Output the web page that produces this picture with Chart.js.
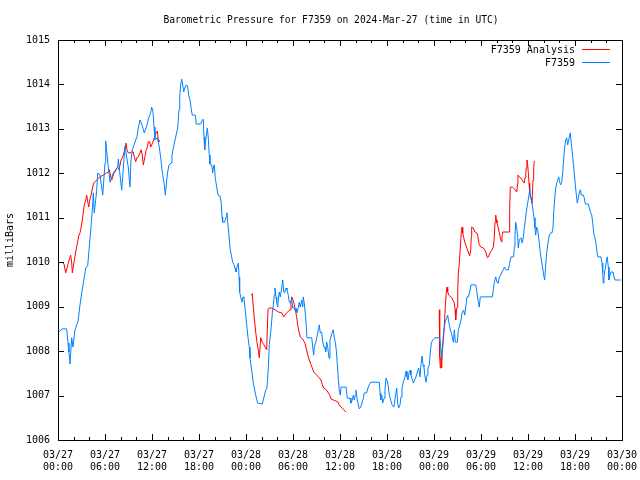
<!DOCTYPE html>
<html>
<head>
<meta charset="utf-8">
<script src="https://cdn.jsdelivr.net/npm/chart.js@4"></script>
<style>
  html, body { margin: 0; padding: 0; background: #fff; }
</style>
</head>
<body>
<canvas id="pressureChart" width="640" height="480"></canvas>
<script>
// F7359 station readings, hours since 2024-03-27 00:00 UTC
const stationHours = [
  0, 0.51, 1.11, 1.28, 1.40, 1.53, 1.75, 1.91, 2.17, 2.39, 2.55, 2.81, 3.03, 3.36, 3.54, 3.79, 3.96, 4.21, 4.38, 4.51,
  4.63, 4.81, 4.94, 5.07, 5.36, 5.71, 6.00, 6.09, 6.42, 6.64, 7.06, 7.62, 7.70, 8.13, 8.55, 8.97, 9.19, 9.32, 9.49, 9.92,
  10.08, 10.25, 10.47, 10.72, 11.02, 11.36, 11.53, 11.83, 11.96, 12.13, 12.26, 12.38, 12.68, 12.93, 13.15, 13.28, 13.44, 13.57, 13.70, 13.88,
  14.00, 14.17, 14.43, 14.55, 14.72, 14.94, 15.28, 15.45, 15.54, 15.66, 15.79, 15.92, 16.05, 16.21, 16.43, 16.56, 16.68, 16.85, 16.98, 17.14,
  17.53, 17.65, 18.22, 18.38, 18.55, 18.64, 18.73, 18.85, 18.98, 19.06, 19.19, 19.31, 19.40, 19.62, 19.75, 19.83, 19.95, 20.08, 20.26, 20.43,
  20.68, 20.85, 20.94, 21.02, 21.28, 21.45, 21.57, 21.66, 21.79, 21.87, 22.00, 22.17, 22.30, 22.47, 22.60, 22.72, 22.85, 23.02, 23.11, 23.19,
  23.32, 23.49, 23.62, 23.74, 23.87, 24.00, 24.13, 24.26, 24.42, 24.51, 24.73, 24.93, 25.24, 25.49, 26.08, 26.30, 26.51, 26.68, 26.85, 26.97,
  27.19, 27.36, 27.49, 27.61, 27.70, 27.83, 27.92, 28.05, 28.12, 28.25, 28.38, 28.56, 28.69, 28.81, 28.94, 29.11, 29.23, 29.40, 29.53, 29.71,
  29.84, 29.96, 30.09, 30.26, 30.38, 30.51, 30.68, 30.80, 30.93, 31.11, 31.24, 31.31, 31.44, 31.62, 31.79, 32.39, 32.52, 32.64, 32.72, 32.90,
  33.06, 33.23, 33.36, 33.48, 33.66, 33.79, 33.96, 34.09, 34.17, 34.30, 34.43, 34.60, 34.72, 34.85, 35.02, 35.14, 35.27, 35.40, 35.53, 35.66,
  35.78, 35.91, 36.04, 36.13, 36.77, 36.93, 37.28, 37.40, 37.57, 37.70, 37.83, 37.96, 38.04, 38.21, 38.34, 38.46, 38.64, 38.81, 38.98, 39.10,
  39.40, 39.57, 39.74, 39.92, 41.02, 41.11, 41.20, 41.33, 41.45, 41.62, 41.74, 41.87, 42.04, 42.17, 42.29, 42.47, 42.64, 42.89, 43.06, 43.24,
  43.36, 43.49, 43.66, 43.79, 43.91, 44.08, 44.30, 44.43, 44.55, 44.68, 44.81, 44.94, 45.06, 45.19, 45.36, 45.54, 45.70, 45.87, 46.05, 46.21,
  46.34, 46.47, 46.60, 46.72, 46.85, 46.98, 47.11, 47.23, 47.40, 47.53, 47.66, 47.83, 48.13, 48.73, 48.86, 48.98, 49.11, 49.19, 49.31, 49.44,
  49.62, 49.75, 49.88, 50.01, 50.17, 50.34, 50.47, 50.60, 50.73, 50.98, 51.11, 51.29, 51.45, 51.61, 51.79, 51.92, 52.05, 52.21, 52.38, 52.55,
  52.72, 53.32, 53.49, 53.66, 53.78, 53.91, 55.44, 55.57, 55.70, 55.88, 56.04, 56.21, 56.34, 56.51, 56.68, 56.85, 56.98, 57.16, 57.49, 57.66,
  57.83, 58.17, 58.25, 58.34, 58.43, 58.56, 58.69, 58.76, 58.89, 59.10, 59.27, 59.40, 59.53, 59.66, 59.78, 59.96, 60.09, 60.22, 60.35, 60.48,
  60.60, 60.77, 60.89, 60.98, 61.11, 61.24, 61.40, 61.53, 61.70, 61.88, 62.00, 62.13, 62.26, 62.38, 62.55, 62.72, 62.90, 63.06, 63.19, 63.28,
  63.41, 63.54, 63.66, 63.79, 63.92, 64.05, 64.17, 64.30, 64.43, 64.56, 64.69, 64.81, 64.94, 65.07, 65.20, 65.33, 65.40, 65.53, 65.66, 65.78,
  65.91, 66.04, 66.17, 66.29, 66.42, 66.55, 66.68, 66.81, 67.06, 67.19, 67.32, 67.70, 67.83, 68.01, 68.14, 68.26, 68.39, 68.52, 68.65, 68.78,
  68.90, 69.32, 69.45, 69.54, 69.61, 69.70, 69.83, 69.99, 70.12, 70.25, 70.34, 70.47, 70.60, 70.85, 70.98, 71.11, 71.84
];
const stationPressure = [
  1008.41, 1008.50, 1008.50, 1008.18, 1007.98, 1007.71, 1008.30, 1008.09, 1008.48, 1008.59, 1008.66, 1009.04, 1009.31, 1009.67, 1009.87, 1009.92, 1010.27, 1010.79, 1011.17, 1011.56,
  1011.11, 1011.40, 1011.62, 1012.01, 1011.96, 1011.51, 1012.23, 1012.73, 1012.14, 1011.80, 1012.01, 1012.14, 1012.32, 1011.62, 1012.61, 1012.14, 1011.69, 1012.30, 1012.53, 1012.75,
  1012.82, 1013.02, 1013.20, 1013.09, 1012.91, 1013.09, 1013.22, 1013.36, 1013.49, 1013.38, 1013.04, 1012.75, 1012.80, 1012.59, 1012.30, 1012.07, 1011.89, 1011.74, 1011.51, 1011.85,
  1012.03, 1012.19, 1012.23, 1012.41, 1012.57, 1012.75, 1013.02, 1013.43, 1013.72, 1013.99, 1014.12, 1013.99, 1013.83, 1013.94, 1013.99, 1013.94, 1013.76, 1013.65, 1013.49, 1013.31,
  1013.31, 1013.11, 1013.11, 1013.18, 1013.22, 1012.82, 1012.53, 1012.75, 1012.91, 1013.02, 1012.79, 1012.41, 1012.21, 1012.19, 1012.01, 1012.12, 1012.19, 1011.89, 1011.69, 1011.51,
  1011.49, 1011.33, 1011.02, 1010.90, 1010.90, 1011.02, 1011.11, 1010.90, 1010.68, 1010.50, 1010.27, 1010.12, 1010.00, 1009.94, 1009.87, 1009.78, 1009.89, 1009.98, 1009.67, 1009.33,
  1009.22, 1009.10, 1009.22, 1009.20, 1008.97, 1008.74, 1008.52, 1008.30, 1008.09, 1007.84, 1007.57, 1007.28, 1007.01, 1006.83, 1006.81, 1006.97, 1007.12, 1007.17, 1007.62, 1008.14,
  1008.48, 1008.86, 1009.04, 1009.26, 1009.42, 1009.22, 1009.10, 1008.99, 1009.15, 1009.33, 1009.22, 1009.42, 1009.60, 1009.33, 1009.31, 1009.42, 1009.38, 1009.26, 1009.10, 1009.08,
  1009.15, 1008.97, 1008.99, 1008.92, 1008.97, 1008.86, 1008.99, 1009.10, 1008.99, 1009.15, 1008.99, 1009.22, 1009.08, 1008.74, 1008.30, 1008.30, 1008.09, 1007.91, 1008.09, 1008.20,
  1008.32, 1008.48, 1008.59, 1008.41, 1008.43, 1008.20, 1008.09, 1008.09, 1007.98, 1008.20, 1008.09, 1007.84, 1008.25, 1008.32, 1008.43, 1008.48, 1008.30, 1008.20, 1008.02, 1007.69,
  1007.39, 1007.12, 1007.01, 1007.19, 1007.19, 1006.94, 1006.94, 1006.83, 1006.90, 1007.01, 1006.90, 1007.01, 1007.12, 1006.90, 1006.79, 1006.70, 1006.74, 1006.83, 1006.94, 1007.06,
  1007.06, 1007.17, 1007.24, 1007.30, 1007.30, 1007.06, 1006.90, 1007.01, 1006.83, 1006.94, 1007.12, 1007.39, 1007.33, 1007.19, 1007.01, 1006.90, 1006.79, 1006.74, 1006.97, 1007.17,
  1006.83, 1006.72, 1006.79, 1006.97, 1007.17, 1007.30, 1007.42, 1007.55, 1007.42, 1007.35, 1007.51, 1007.57, 1007.46, 1007.39, 1007.28, 1007.35, 1007.42, 1007.53, 1007.62, 1007.42,
  1007.69, 1007.89, 1007.69, 1007.64, 1007.42, 1007.30, 1007.46, 1007.62, 1007.69, 1007.98, 1008.18, 1008.25, 1008.30, 1008.30, 1008.09, 1007.87, 1008.07, 1008.36, 1008.54, 1008.66,
  1008.74, 1008.81, 1008.66, 1008.54, 1008.43, 1008.32, 1008.20, 1008.48, 1008.20, 1008.20, 1008.48, 1008.59, 1008.70, 1008.88, 1008.92, 1008.81, 1008.99, 1009.22, 1009.22, 1009.33,
  1009.49, 1009.49, 1009.31, 1009.10, 1008.99, 1009.22, 1009.22, 1009.38, 1009.55, 1009.67, 1009.55, 1009.53, 1009.67, 1009.71, 1009.78, 1009.83, 1009.89, 1009.83, 1009.83, 1009.98,
  1010.12, 1010.12, 1010.34, 1010.61, 1010.90, 1010.77, 1010.55, 1010.32, 1010.50, 1010.55, 1010.43, 1010.57, 1010.77, 1010.95, 1011.13, 1011.33, 1011.47, 1011.63, 1011.47, 1011.36,
  1011.22, 1011.00, 1010.77, 1010.61, 1010.79, 1010.72, 1010.50, 1010.27, 1010.05, 1009.87, 1009.71, 1009.60, 1009.94, 1010.21, 1010.43, 1010.61, 1010.66, 1010.66, 1010.77, 1011.11,
  1011.44, 1011.67, 1011.78, 1011.85, 1011.92, 1011.80, 1011.74, 1011.80, 1012.01, 1012.34, 1012.59, 1012.75, 1012.80, 1012.64, 1012.75, 1012.86, 1012.91, 1012.68, 1012.46, 1012.23,
  1012.01, 1011.74, 1011.51, 1011.33, 1011.44, 1011.56, 1011.63, 1011.51, 1011.51, 1011.44, 1011.31, 1011.31, 1011.22, 1011.11, 1011.06, 1010.88, 1010.66, 1010.57, 1010.46, 1010.27,
  1010.12, 1010.12, 1009.98, 1009.76, 1009.53, 1009.67, 1009.83, 1010.00, 1010.12, 1009.89, 1009.60, 1009.71, 1009.78, 1009.78, 1009.67, 1009.60, 1009.60
];

// analysis series, null marks the gaps between runs
const analysisHours = [
  0.55, 0.77, 0.98, 1.15, 1.31, 1.49, 1.62, 1.75, 1.83, 1.95, 2.08, 2.26, 2.51, 2.68, 2.81, 2.94, 3.10, 3.23, 3.36, 3.54,
  3.66, 3.79, 3.92, 4.05, 4.17, 4.30, 4.43, 4.56, 4.94, 5.36, 5.78, 6.22, 6.42, 6.55, 6.73, 6.86, 6.98, 7.11, 7.28, 7.49,
  7.62, 7.79, 7.92, 8.05, 8.21, 8.34, 8.55, 8.68, 8.81, 8.97, 9.19, 9.41, 9.61, 9.74, 9.92, 10.05, 10.25, 10.47, 10.60, 10.76,
  10.89, 11.02, 11.14, 11.27, 11.40, 11.53, 11.70, 11.83, 11.96, 12.22, 12.38, 12.60, 12.68, 12.80, 12.89,
  18.0,
  24.64, 24.80, 24.93, 25.06, 25.24, 25.40, 25.53, 25.70, 25.88, 26.08, 26.30, 26.51, 26.64, 26.72, 26.81, 26.94, 27.28, 27.70, 28.12, 28.56,
  28.81, 29.19, 29.62, 29.74, 29.84, 29.96, 30.09, 30.22, 30.47, 30.60, 30.77, 30.93, 31.31, 31.53, 31.79, 31.95, 32.30, 32.46, 32.64, 33.02,
  33.23, 33.57, 33.74, 33.92, 34.30, 34.69, 34.85, 35.14, 35.45, 35.71, 35.91, 36.13, 36.29, 36.47, 36.77,
  42.0,
  48.67, 48.73, 48.80, 48.89, 48.98, 49.06, 49.19, 49.31, 49.44, 49.57, 49.66, 49.75, 49.88, 50.26, 50.60, 50.69, 50.77, 50.85, 50.94, 51.03,
  51.11, 51.24, 51.36, 51.49, 51.58, 51.67, 51.79, 51.96, 52.18, 52.38, 52.55, 52.68, 52.76, 52.81, 53.02, 53.23, 53.45, 53.58, 53.66, 53.78,
  54.00, 54.30, 54.51, 54.64, 54.81, 54.94, 55.15, 55.37, 55.57, 55.70, 55.79, 55.88, 55.96, 56.04, 56.21, 56.34, 56.47, 56.60, 56.68, 56.77,
  57.07, 57.58, 57.66, 57.74, 58.00, 58.17, 58.34, 58.56, 58.69, 58.72, 58.89, 59.07, 59.24, 59.40, 59.53, 59.62, 59.71, 59.78, 59.87, 59.96,
  60.04, 60.13, 60.22, 60.30, 60.39, 60.48, 60.56, 60.64, 60.73, 60.81
];
const analysisPressure = [
  1010.00, 1009.96, 1009.76, 1009.87, 1009.98, 1010.09, 1010.16, 1009.98, 1009.76, 1009.89, 1010.05, 1010.23, 1010.46, 1010.61, 1010.66, 1010.77, 1010.95, 1011.13, 1011.29, 1011.40,
  1011.51, 1011.36, 1011.24, 1011.40, 1011.47, 1011.58, 1011.69, 1011.78, 1011.85, 1011.92, 1011.96, 1012.01, 1012.03, 1012.08, 1011.92, 1011.85, 1011.92, 1011.99, 1012.03, 1012.12,
  1012.14, 1012.08, 1012.19, 1012.30, 1012.35, 1012.41, 1012.55, 1012.68, 1012.53, 1012.46, 1012.46, 1012.48, 1012.48, 1012.37, 1012.26, 1012.35, 1012.37, 1012.46, 1012.53, 1012.41,
  1012.19, 1012.30, 1012.41, 1012.53, 1012.59, 1012.71, 1012.71, 1012.59, 1012.64, 1012.75, 1012.86, 1012.93, 1012.95, 1012.75, 1012.71,
  null,
  1009.26, 1009.29, 1008.99, 1008.74, 1008.43, 1008.20, 1008.07, 1007.85, 1008.30, 1008.20, 1008.14, 1008.07, 1008.03, 1008.48, 1008.93, 1008.97, 1008.97, 1008.93, 1008.88, 1008.86,
  1008.77, 1008.86, 1008.93, 1009.10, 1009.22, 1009.17, 1009.10, 1008.99, 1008.77, 1008.59, 1008.43, 1008.32, 1008.25, 1008.18, 1007.98, 1007.87, 1007.69, 1007.62, 1007.53, 1007.46,
  1007.42, 1007.35, 1007.24, 1007.17, 1007.12, 1007.01, 1006.92, 1006.90, 1006.88, 1006.86, 1006.79, 1006.74, 1006.72, 1006.68, 1006.63,
  null,
  1008.93, 1007.87, 1007.62, 1007.87, 1007.62, 1008.03, 1008.25, 1008.54, 1008.99, 1009.33, 1009.44, 1009.33, 1009.26, 1009.20, 1009.08, 1008.93, 1008.70, 1008.88, 1008.99, 1009.38,
  1009.76, 1010.00, 1010.32, 1010.68, 1010.79, 1010.66, 1010.55, 1010.43, 1010.32, 1010.23, 1010.14, 1010.27, 1010.57, 1010.79, 1010.77, 1010.68, 1010.66, 1010.61, 1010.50, 1010.39,
  1010.34, 1010.32, 1010.27, 1010.21, 1010.10, 1010.12, 1010.21, 1010.27, 1010.34, 1010.57, 1010.90, 1011.06, 1010.95, 1010.88, 1010.77, 1010.66, 1010.55, 1010.46, 1010.57, 1010.68,
  1010.68, 1010.68, 1011.18, 1011.69, 1011.69, 1011.67, 1011.63, 1011.58, 1011.78, 1011.96, 1011.92, 1011.90, 1011.85, 1011.81, 1011.78, 1011.90, 1012.01, 1012.12, 1012.30, 1012.19,
  1012.01, 1011.78, 1011.56, 1011.47, 1011.45, 1011.33, 1011.51, 1011.85, 1012.14, 1012.28
];

// x tick labels, one every 6 hours
const tickDates = ['03/27', '03/27', '03/27', '03/27', '03/28', '03/28', '03/28', '03/28', '03/29', '03/29', '03/29', '03/29', '03/30'];
const tickTimes = ['00:00', '06:00', '12:00', '18:00', '00:00', '06:00', '12:00', '18:00', '00:00', '06:00', '12:00', '18:00', '00:00'];

const MONO = '"DejaVu Sans Mono", "Liberation Mono", monospace';
const RED = '#ff0000';
const BLUE = 'rgb(0,128,255)';

// gnuplot style frame, inward ticks, title and key
const gnuplotDecor = {
  id: 'gnuplotDecor',
  afterDraw(chart) {
    const { ctx, chartArea: a, scales } = chart;
    ctx.save();
    ctx.strokeStyle = '#000';
    ctx.lineWidth = 1;
    ctx.strokeRect(Math.round(a.left) + 0.5, Math.round(a.top) + 0.5,
      Math.round(a.right - a.left), Math.round(a.bottom - a.top));

    ctx.beginPath();
    for (let v = 1006; v <= 1015; v++) {
      const y = Math.round(scales.y.getPixelForValue(v)) + 0.5;
      ctx.moveTo(a.left, y); ctx.lineTo(a.left + 6, y);
      ctx.moveTo(a.right, y); ctx.lineTo(a.right - 6, y);
    }
    for (let h = 0; h <= 72; h += 2) {
      const x = Math.round(scales.x.getPixelForValue(h)) + 0.5;
      const len = h % 6 === 0 ? 6 : 3;
      ctx.moveTo(x, a.bottom); ctx.lineTo(x, a.bottom - len);
      ctx.moveTo(x, a.top); ctx.lineTo(x, a.top + len);
    }
    ctx.stroke();

    ctx.fillStyle = '#000';
    ctx.font = '9.6px ' + MONO;
    ctx.textBaseline = 'middle';
    ctx.textAlign = 'center';
    ctx.fillText('Barometric Pressure for F7359 on 2024-Mar-27 (time in UTC)', 331, 20);

    // key, top right
    ctx.font = '10px ' + MONO;
    const keys = [['F7359 Analysis', RED], ['F7359', BLUE]];
    ctx.textAlign = 'right';
    keys.forEach(([label, color], i) => {
      const y = 50 + i * 13;
      ctx.fillStyle = '#000';
      ctx.fillText(label, 575, y);
      ctx.strokeStyle = color;
      ctx.beginPath();
      ctx.moveTo(582, y - 0.5); ctx.lineTo(610, y - 0.5);
      ctx.stroke();
    });
    ctx.restore();
  }
};

new Chart(document.getElementById('pressureChart').getContext('2d'), {
  type: 'line',
  data: {
    datasets: [
      {
        label: 'F7359 Analysis',
        data: analysisHours.map((h, i) => ({ x: h, y: analysisPressure[i] })),
        borderColor: RED, borderWidth: 1, pointRadius: 0, spanGaps: false, order: 2
      },
      {
        label: 'F7359',
        data: stationHours.map((h, i) => ({ x: h, y: stationPressure[i] })),
        borderColor: BLUE, borderWidth: 1, pointRadius: 0, order: 1
      }
    ]
  },
  options: {
    responsive: false,
    animation: false,
    devicePixelRatio: 1,
    layout: { padding: { top: 40, right: 18, left: 0, bottom: 0 } },
    plugins: { legend: { display: false }, tooltip: { enabled: false } },
    scales: {
      x: {
        type: 'linear', min: 0, max: 72,
        grid: { drawOnChartArea: false, drawTicks: false },
        border: { display: false },
        ticks: {
          stepSize: 6, autoSkip: false, maxRotation: 0, padding: 9,
          color: '#000', font: { family: MONO, size: 10 },
          callback: (v) => { const i = Math.round(v / 6); return [tickDates[i], tickTimes[i]]; }
        },
        afterFit: (s) => { s.height = 40; s.paddingLeft = 0; s.paddingRight = 0; }
      },
      y: {
        min: 1006, max: 1015,
        grid: { drawOnChartArea: false, drawTicks: false },
        border: { display: false },
        ticks: { stepSize: 1, padding: 8, color: '#000', font: { family: MONO, size: 10 }, callback: (v) => String(v) },
        title: { display: true, text: 'milliBars', color: '#000', font: { family: MONO, size: 10 }, padding: { top: 4, bottom: 0 } },
        afterFit: (s) => { s.width = 58; s.paddingTop = 0; s.paddingBottom = 0; }
      }
    }
  },
  plugins: [gnuplotDecor]
});
</script>
</body>
</html>
